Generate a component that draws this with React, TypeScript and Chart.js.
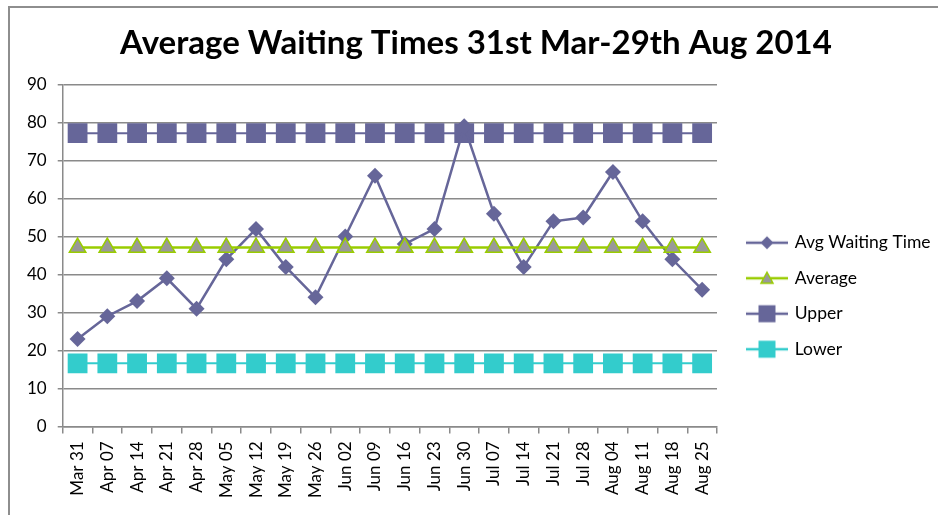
import React, { useEffect, useRef } from 'react';
import { Chart, registerables } from 'chart.js';

Chart.register(...registerables);

const categories = ['Mar 31', 'Apr 07', 'Apr 14', 'Apr 21', 'Apr 28', 'May 05', 'May 12', 'May 19', 'May 26', 'Jun 02', 'Jun 09', 'Jun 16', 'Jun 23', 'Jun 30', 'Jul 07', 'Jul 14', 'Jul 21', 'Jul 28', 'Aug 04', 'Aug 11', 'Aug 18', 'Aug 25'];
const avgWaitingTime = [23, 29, 33, 39, 31, 44, 52, 42, 34, 50, 66, 48, 52, 79, 56, 42, 54, 55, 67, 54, 44, 36];
const averageLine = [47.1, 47.1, 47.1, 47.1, 47.1, 47.1, 47.1, 47.1, 47.1, 47.1, 47.1, 47.1, 47.1, 47.1, 47.1, 47.1, 47.1, 47.1, 47.1, 47.1, 47.1, 47.1];
const upperLine = [77.2, 77.2, 77.2, 77.2, 77.2, 77.2, 77.2, 77.2, 77.2, 77.2, 77.2, 77.2, 77.2, 77.2, 77.2, 77.2, 77.2, 77.2, 77.2, 77.2, 77.2, 77.2];
const lowerLine = [16.6, 16.6, 16.6, 16.6, 16.6, 16.6, 16.6, 16.6, 16.6, 16.6, 16.6, 16.6, 16.6, 16.6, 16.6, 16.6, 16.6, 16.6, 16.6, 16.6, 16.6, 16.6];
const seriesNames = ['Avg Waiting Time', 'Average', 'Upper', 'Lower'];
const yTicks = [0, 10, 20, 30, 40, 50, 60, 70, 80, 90];
const titleText = 'Average Waiting Times 31st Mar-29th Aug 2014';

const PURPLE = '#666699';
const GREEN = '#99CC00';
const GREY_FILL = '#999999';
const TEAL = '#33CCCC';
const GRID = '#8a8a8a';
const FONT = 'Lato, "Open Sans", sans-serif';

function makeIcon(kind: string, lineColor: string, fill: string, stroke?: string) {
  const c = document.createElement('canvas');
  c.width = 42;
  c.height = 22;
  const ctx = c.getContext('2d') as CanvasRenderingContext2D;
  ctx.strokeStyle = lineColor;
  ctx.lineWidth = 2.5;
  ctx.beginPath();
  ctx.moveTo(0, 11);
  ctx.lineTo(42, 11);
  ctx.stroke();
  ctx.fillStyle = fill;
  ctx.beginPath();
  if (kind === 'diamond') {
    ctx.moveTo(21, 4.5);
    ctx.lineTo(27.5, 11);
    ctx.lineTo(21, 17.5);
    ctx.lineTo(14.5, 11);
    ctx.closePath();
    ctx.fill();
  } else if (kind === 'triangle') {
    ctx.moveTo(21, 5);
    ctx.lineTo(27, 16);
    ctx.lineTo(15, 16);
    ctx.closePath();
    ctx.fill();
    if (stroke) {
      ctx.strokeStyle = stroke;
      ctx.lineWidth = 1.5;
      ctx.stroke();
    }
  } else {
    ctx.rect(12.5, 2.5, 17, 17);
    ctx.fill();
  }
  return c;
}

const blockShift = {
  id: 'blockShift',
  afterLayout(chart: any) {
    const lg = chart.legend;
    if (lg) {
      const dx = 13;
      const dy = 38;
      lg.left += dx;
      lg.right += dx;
      lg.top += dy;
      lg.bottom += dy;
    }
    const tb = chart.titleBlock;
    if (tb) {
      tb.left += 9;
      tb.right += 9;
    }
  },
};

export default function App() {
  const ref = useRef<HTMLCanvasElement | null>(null);

  useEffect(() => {
    if (!ref.current) return;
    const icons = [
      makeIcon('diamond', PURPLE, PURPLE),
      makeIcon('triangle', GREEN, GREY_FILL, GREEN),
      makeIcon('square', PURPLE, PURPLE),
      makeIcon('square', TEAL, TEAL),
    ];
    const chart = new Chart(ref.current, {
      type: 'line',
      data: {
        labels: categories,
        datasets: [
          {
            label: seriesNames[0],
            data: avgWaitingTime,
            borderColor: PURPLE,
            backgroundColor: PURPLE,
            borderWidth: 2.5,
            pointStyle: 'rectRot',
            pointRadius: 8,
            pointBorderWidth: 0,
            pointBackgroundColor: PURPLE,
            order: 1,
          },
          {
            label: seriesNames[1],
            data: averageLine,
            borderColor: GREEN,
            backgroundColor: GREY_FILL,
            borderWidth: 2.5,
            pointStyle: 'triangle',
            pointRadius: 9.5,
            pointBorderWidth: 1.5,
            pointBorderColor: GREEN,
            pointBackgroundColor: GREY_FILL,
            order: 0,
          },
          {
            label: seriesNames[2],
            data: upperLine,
            borderColor: PURPLE,
            backgroundColor: PURPLE,
            borderWidth: 2,
            pointStyle: 'rect',
            pointRadius: 14,
            pointBorderWidth: 0,
            pointBackgroundColor: PURPLE,
            order: 2,
          },
          {
            label: seriesNames[3],
            data: lowerLine,
            borderColor: TEAL,
            backgroundColor: TEAL,
            borderWidth: 2,
            pointStyle: 'rect',
            pointRadius: 14,
            pointBorderWidth: 0,
            pointBackgroundColor: TEAL,
            order: 3,
          },
        ],
      },
      options: {
        responsive: false,
        animation: false,
        events: [],
        layout: { padding: { left: 16, right: 20, top: 10, bottom: 9 } },
        plugins: {
          title: {
            display: true,
            text: titleText,
            color: '#000',
            font: { family: FONT, size: 33, weight: 'bold' },
            padding: { top: 14, bottom: 21 },
          },
          legend: {
            display: true,
            position: 'right',
            maxWidth: 201,
            labels: {
              color: '#000',
              font: { family: FONT, size: 17.5 },
              padding: 18,
              usePointStyle: true,
              pointStyleWidth: 38,
              generateLabels: () =>
                seriesNames.map((name, i) => ({
                  text: name,
                  pointStyle: icons[i] as any,
                  fillStyle: 'transparent',
                  strokeStyle: 'transparent',
                  lineWidth: 0,
                  hidden: false,
                  datasetIndex: i,
                })),
            },
          },
          tooltip: { enabled: false },
        },
        scales: {
          x: {
            type: 'category',
            offset: true,
            grid: {
              display: true,
              offset: true,
              drawOnChartArea: false,
              drawTicks: true,
              tickLength: 7,
              color: GRID,
              lineWidth: 1.5,
            },
            border: { display: true, color: GRID, width: 1.5 },
            ticks: {
              color: '#000',
              font: { family: FONT, size: 17 },
              minRotation: 90,
              maxRotation: 90,
              autoSkip: false,
              padding: 8,
            },
          },
          y: {
            min: 0,
            max: 90,
            afterBuildTicks: (scale: any) => {
              scale.ticks = yTicks.map((v) => ({ value: v }));
            },
            grid: {
              color: GRID,
              lineWidth: 1.5,
              drawTicks: true,
              tickLength: 5,
            },
            border: { display: true, color: GRID, width: 1.5 },
            ticks: {
              color: '#000',
              font: { family: FONT, size: 17 },
              padding: 11,
            },
          },
        },
      },
      plugins: [blockShift],
    });
    return () => chart.destroy();
  }, []);

  return (
    <div style={{ position: 'fixed', left: 0, top: 0, width: 938, height: 515, background: '#fff', overflow: 'hidden' }}>
      <div
        style={{
          position: 'absolute',
          left: 8,
          top: 6,
          width: 1000,
          height: 507,
          borderLeft: '2px solid #8e8e8e',
          borderTop: '2px solid #8e8e8e',
          pointerEvents: 'none',
        }}
      />
      <canvas ref={ref} width={938} height={515} style={{ position: 'absolute', left: 0, top: 0 }} />
    </div>
  );
}
